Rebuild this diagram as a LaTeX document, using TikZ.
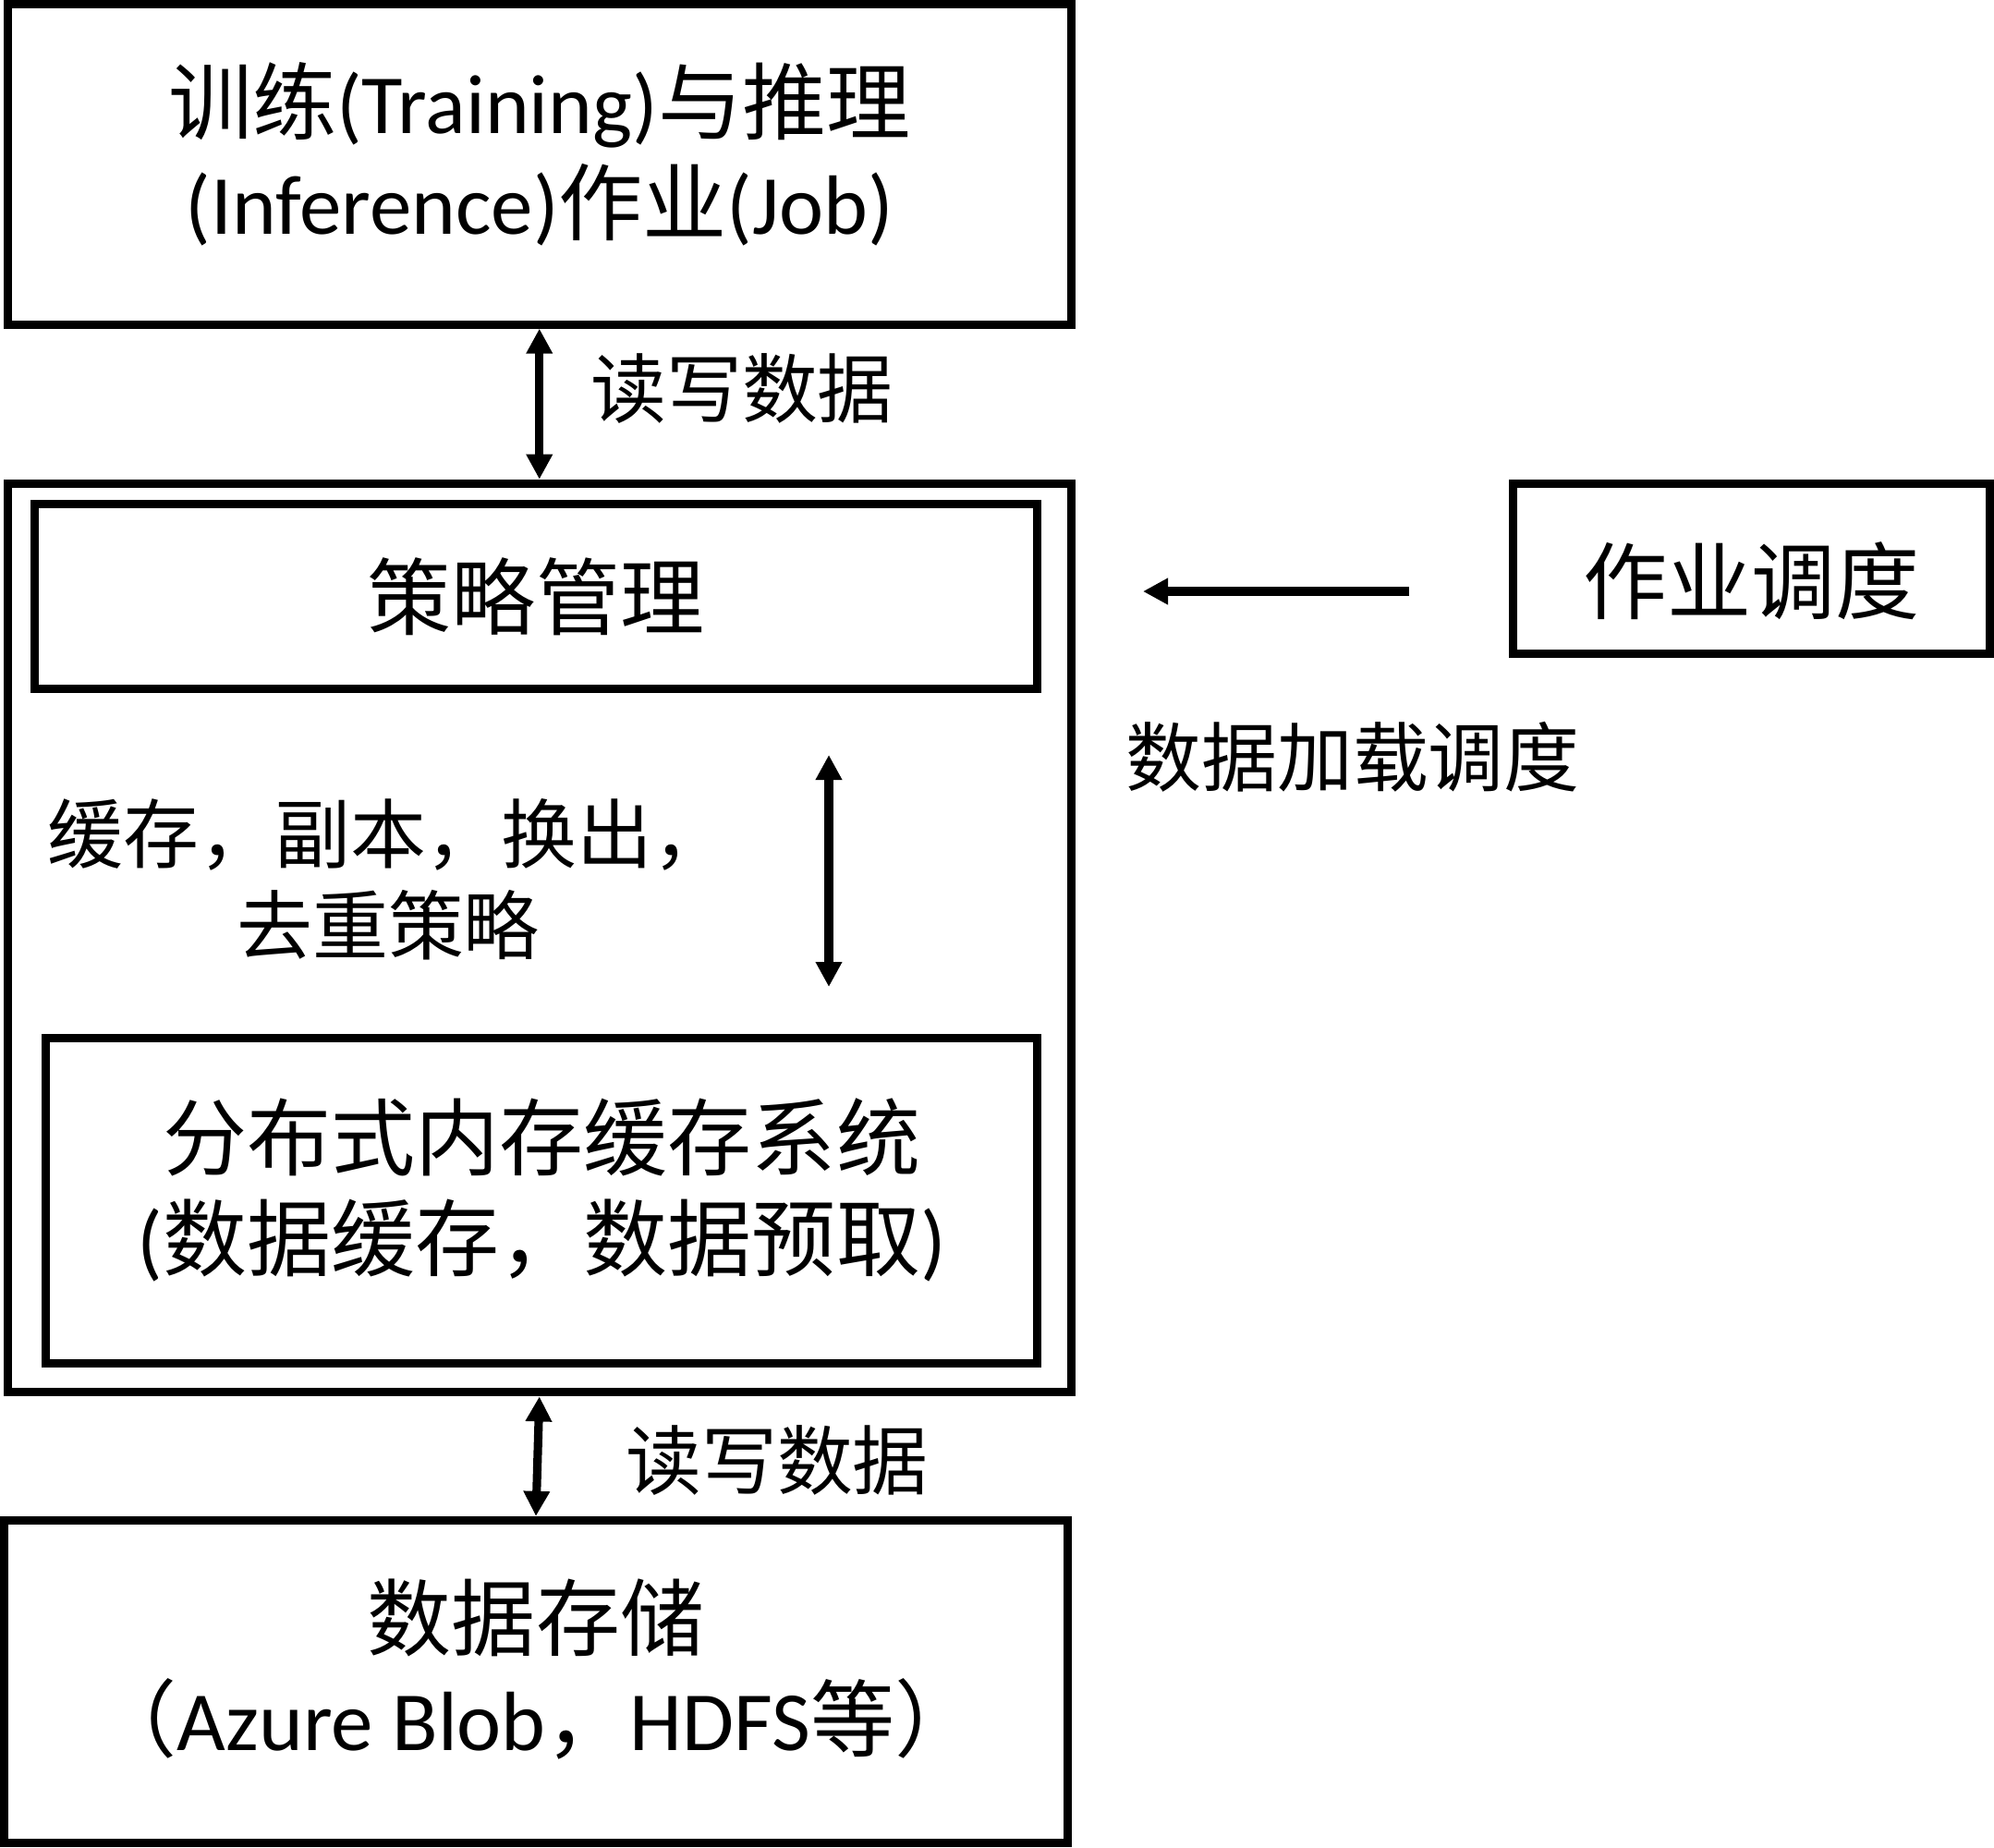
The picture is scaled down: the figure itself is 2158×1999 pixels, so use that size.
\documentclass[tikz,border=0pt]{standalone}
\usepackage{fontspec}
\setmainfont{Noto Sans CJK SC}
\newfontfamily\enfont{Carlito}
\newcommand\en[1]{{\enfont #1}}
\newcommand\lift[1]{\rule[-#1]{0pt}{#1}}
\usetikzlibrary{arrows.meta}

\begin{document}
\begin{tikzpicture}[x=0.01cm, y=-0.01cm,
  font=\fontsize{25.9}{31}\selectfont,
  >={Triangle[length=0.27cm,width=0.27cm]},
  box/.style={draw, line width=2.6pt, align=center, inner sep=0pt},
  lbl/.style={font=\fontsize{23.3}{28.2}\selectfont, align=center, inner sep=0pt},
  arr/.style={<->, line width=2.6pt}
]
  \useasboundingbox (0,0) rectangle (2158,1999);

  % --- Job (haut) ---
  \node[box, minimum width=11.505cm, minimum height=3.465cm] (job) at (583.75,177.75)
        {训练\en{(Training)}与推理\\\en{(Inference)}作业\en{(Job)}\lift{0.38em}};

  % --- Cache system (centre) ---
  \node[box, minimum width=11.505cm, minimum height=9.83cm] (outer) at (583.75,1015) {};
  \node[box, minimum width=10.85cm, minimum height=2cm] (policy) at (580,645.5) {策略管理};
  \node[box, minimum width=10.725cm, minimum height=3.51cm] (cache) at (586.25,1299.5)
        {分布式内存缓存系统\\\en{(}数据缓存，数据预取\en{)}\lift{0.4em}};
  \node[lbl] (strat) at (420,952) {缓存，副本，换出，\\去重策略};
  \coordinate (p1) at (897,817);
  \coordinate (p2) at (897,1068);
  \draw[arr] (p1) -- (p2);

  % --- Storage (bas) ---
  \node[box, minimum width=11.51cm, minimum height=3.49cm] (store) at (580,1820)
        {数据存储\\（\en{Azure Blob}，\en{HDFS}等）\lift{0.4em}};

  % --- Scheduler (droite) ---
  \node[box, minimum width=5.155cm, minimum height=1.835cm] (sched) at (1895.25,615.25)
        {\rule{0pt}{1.15em}作业调度};
  \node[lbl] (load) at (1464,819) {数据加载调度};
  \coordinate (s1) at (1525,640);
  \coordinate (s2) at (1237,640);
  \draw[arr, ->] (s1) -- (s2);

  % --- Read/write ---
  \draw[arr] (job.south) -- (outer.north);
  \node[lbl] (rw1) at (803,421) {读写数据};
  \draw[arr] (outer.south) -- (store.north);
  \node[lbl] (rw2) at (841,1580) {读写数据};
\end{tikzpicture}
\end{document}
